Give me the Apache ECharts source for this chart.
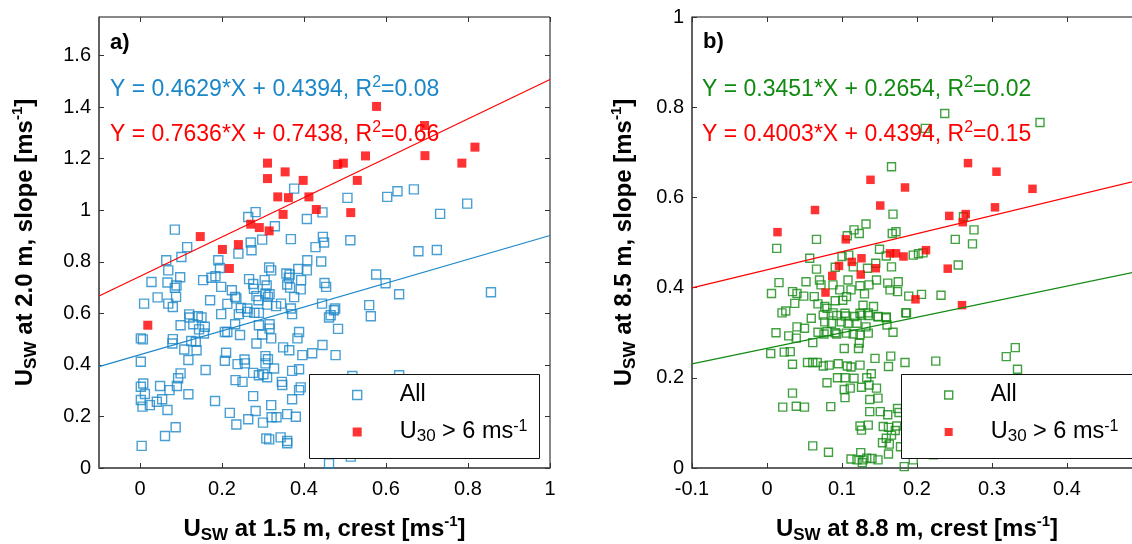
<!DOCTYPE html>
<html><head><meta charset="utf-8">
<script src="https://cdn.jsdelivr.net/npm/echarts@6/dist/echarts.min.js"></script>
<style>html,body{margin:0;padding:0;background:#fff}#c{width:1132px;height:544px}</style>
</head><body><div id="c"></div>
<script>
// ---------- DATA ----------
// Panel a) : U_SW at 1.5 m crest (x) vs U_SW at 2.0 m slope (y)
const allA = [
[0.376,1.084],[0.506,1.048],[0.603,1.052],[0.628,1.074],[0.668,1.081],[0.798,1.026],[0.732,0.986],[0.445,0.992],[0.407,0.966],[0.264,0.974],
[0.282,0.993],[0.329,0.938],[0.085,0.925],[0.368,0.888],[0.298,0.886],[0.446,0.897],[0.449,0.875],[0.428,0.857],[0.513,0.884],[0.270,0.875],
[0.272,0.845],[0.240,0.832],[0.115,0.857],[0.101,0.819],[0.064,0.806],[0.069,0.767],[0.191,0.806],[0.195,0.776],[0.408,0.806],[0.442,0.801],
[0.679,0.841],[0.724,0.846],[0.315,0.778],[0.320,0.767],[0.386,0.772],[0.407,0.767],[0.357,0.755],[0.365,0.751],[0.363,0.738],[0.393,0.729],
[0.576,0.751],[0.599,0.717],[0.098,0.740],[0.028,0.722],[0.067,0.720],[0.089,0.708],[0.085,0.699],[0.154,0.729],[0.174,0.738],[0.184,0.744],
[0.198,0.703],[0.266,0.733],[0.276,0.714],[0.278,0.695],[0.304,0.729],[0.309,0.708],[0.306,0.677],[0.359,0.712],[0.366,0.700],[0.392,0.693],
[0.450,0.718],[0.454,0.703],[0.632,0.674],[0.856,0.682],[0.224,0.690],[0.232,0.664],[0.235,0.658],[0.284,0.667],[0.316,0.674],[0.312,0.664],
[0.376,0.663],[0.289,0.651],[0.088,0.664],[0.043,0.662],[0.010,0.638],[0.069,0.638],[0.080,0.625],[0.171,0.651],[0.213,0.637],[0.246,0.621],
[0.262,0.619],[0.310,0.634],[0.344,0.638],[0.444,0.638],[0.476,0.619],[0.473,0.612],[0.559,0.632],[0.563,0.589],[0.465,0.593],[0.368,0.619],
[0.371,0.597],[0.262,0.606],[0.279,0.602],[0.290,0.602],[0.241,0.597],[0.198,0.597],[0.120,0.596],[0.141,0.589],[0.150,0.584],[0.121,0.584],
[0.332,0.628],
[0.099,0.554],[0.130,0.558],[0.144,0.538],[0.158,0.548],[0.156,0.522],[0.213,0.528],[0.232,0.558],[0.244,0.516],[0.290,0.554],[0.316,0.558],
[0.316,0.541],[0.298,0.518],[0.320,0.503],[0.284,0.483],[0.388,0.528],[0.384,0.503],[0.483,0.540],[0.461,0.584],[0.002,0.503],[0.007,0.499],
[0.080,0.500],[0.079,0.483],[0.125,0.493],[0.136,0.490],[0.138,0.457],[0.108,0.460],[0.207,0.528],[0.210,0.447],[0.349,0.468],[0.364,0.457],
[0.306,0.434],[0.312,0.422],[0.255,0.421],[0.256,0.406],[0.238,0.403],[0.207,0.416],[0.118,0.419],[0.002,0.412],[0.160,0.380],[0.099,0.367],
[0.093,0.348],[0.090,0.318],[0.072,0.302],[0.049,0.318],[0.002,0.315],[0.008,0.328],[0.012,0.287],[0.002,0.264],[0.006,0.238],[0.024,0.244],
[0.041,0.257],[0.054,0.267],[0.067,0.225],[0.118,0.286],[0.183,0.260],[0.219,0.214],[0.235,0.169],[0.087,0.158],[0.061,0.124],[0.004,0.086],
[0.233,0.341],[0.250,0.334],[0.276,0.369],[0.290,0.360],[0.301,0.364],[0.310,0.352],[0.306,0.406],[0.327,0.386],[0.346,0.334],[0.347,0.322],
[0.371,0.377],[0.388,0.383],[0.392,0.313],[0.388,0.302],[0.371,0.267],[0.276,0.279],[0.320,0.244],[0.282,0.221],[0.264,0.189],[0.300,0.176],
[0.321,0.197],[0.333,0.197],[0.359,0.209],[0.380,0.199],[0.308,0.115],[0.315,0.111],[0.343,0.119],[0.359,0.096],[0.359,0.105],[0.396,0.438],
[0.420,0.445],[0.445,0.477],[0.477,0.438],[0.461,0.018],[0.514,0.044],[0.518,0.357],[0.632,0.360]
];
const fastA = [
[0.577,1.403],[0.694,1.329],[0.695,1.212],[0.817,1.245],[0.785,1.183],[0.311,1.183],[0.354,1.149],[0.398,1.116],[0.311,1.123],[0.482,1.178],
[0.496,1.183],[0.550,1.211],[0.530,1.116],[0.336,1.052],[0.362,1.049],[0.412,1.052],[0.349,0.984],[0.430,1.003],[0.514,0.991],[0.270,0.946],
[0.291,0.933],[0.315,0.920],[0.147,0.898],[0.201,0.848],[0.240,0.867],[0.218,0.774],[0.019,0.554]
];
// Panel b) : U_SW at 8.8 m crest (x) vs U_SW at 8.5 m slope (y)
const allB = [
[0.237,0.786],[0.211,0.753],[0.364,0.766],[0.166,0.668],
[0.168,0.563],[0.132,0.541],[0.116,0.528],[0.123,0.520],[0.107,0.515],[0.167,0.520],[0.172,0.524],[0.066,0.507],[0.013,0.487],[0.150,0.485],
[0.100,0.469],[0.109,0.472],[0.057,0.465],[0.159,0.470],[0.195,0.472],[0.202,0.475],[0.208,0.477],[0.251,0.507],[0.274,0.497],[0.276,0.528],
[0.262,0.557],[0.255,0.450],[0.066,0.441],[0.091,0.445],[0.115,0.446],[0.134,0.443],[0.145,0.454],[0.166,0.446],
[0.016,0.411],[0.052,0.413],[0.070,0.417],[0.108,0.417],[0.124,0.404],[0.136,0.406],[0.146,0.417],[0.161,0.410],[0.175,0.413],[0.072,0.406],
[0.088,0.406],[0.097,0.395],[0.063,0.380],[0.034,0.391],[0.040,0.387],[0.049,0.381],[0.006,0.387],[0.037,0.365],[0.020,0.344],[0.025,0.348],
[0.068,0.364],[0.077,0.358],[0.091,0.371],[0.101,0.372],[0.106,0.380],[0.112,0.395],[0.130,0.386],[0.128,0.361],[0.142,0.358],[0.164,0.395],
[0.174,0.391],[0.189,0.381],[0.206,0.385],[0.232,0.383],[0.186,0.344],[0.059,0.332],[0.075,0.339],
[0.093,0.338],[0.105,0.337],[0.117,0.336],[0.126,0.339],[0.135,0.338],[0.148,0.335],[0.159,0.335],
[0.080,0.354],[0.088,0.344],[0.104,0.343],[0.124,0.343],[0.135,0.344],[0.148,0.336],[0.159,0.333],[0.185,0.344],
[0.012,0.300],[0.029,0.293],[0.040,0.313],[0.050,0.310],[0.039,0.288],[0.061,0.278],[0.068,0.301],[0.080,0.302],[0.091,0.300],
[0.076,0.297],[0.093,0.297],[0.106,0.299],[0.115,0.297],[0.124,0.295],[0.135,0.299],
[0.077,0.324],[0.086,0.321],[0.099,0.324],[0.108,0.321],[0.120,0.321],[0.132,0.313],[0.160,0.317],[0.168,0.301],
[0.103,0.265],[0.123,0.277],[0.122,0.265],
[0.005,0.254],[0.023,0.257],[0.031,0.258],[0.054,0.234],[0.061,0.234],[0.067,0.234],[0.034,0.230],
[0.075,0.226],[0.083,0.228],[0.095,0.231],[0.107,0.226],[0.112,0.224],[0.124,0.228],
[0.094,0.200],[0.104,0.200],[0.116,0.199],[0.133,0.200],[0.139,0.209],
[0.144,0.243],[0.165,0.248],[0.162,0.225],[0.184,0.234],[0.225,0.237],[0.319,0.247],[0.331,0.267],[0.334,0.219],
[0.080,0.189],[0.034,0.166],[0.103,0.174],[0.111,0.177],[0.104,0.156],[0.126,0.179],[0.136,0.184],[0.146,0.177],[0.137,0.152],[0.148,0.155],
[0.021,0.135],[0.039,0.137],[0.050,0.135],[0.085,0.136],[0.137,0.125],[0.151,0.125],[0.161,0.118],[0.174,0.132],[0.176,0.123],
[0.124,0.093],[0.126,0.084],[0.135,0.095],[0.155,0.092],[0.162,0.090],[0.173,0.093],[0.171,0.083],[0.166,0.073],[0.159,0.066],
[0.154,0.056],[0.163,0.053],[0.061,0.049],[0.082,0.035],
[0.112,0.020],[0.120,0.018],[0.128,0.018],[0.133,0.022],[0.140,0.021],[0.148,0.018],[0.125,0.034],[0.127,0.012],[0.162,0.031],[0.183,0.003],
[0.178,0.047],[0.195,0.018],[0.222,0.029]
];
const fastB = [
[0.268,0.676],[0.306,0.657],[0.138,0.639],[0.184,0.622],[0.354,0.619],[0.151,0.582],[0.064,0.572],[0.014,0.523],[0.105,0.507],[0.243,0.559],
[0.265,0.563],[0.261,0.545],[0.304,0.578],[0.212,0.483],[0.164,0.476],[0.172,0.476],[0.182,0.469],[0.113,0.457],[0.126,0.465],[0.096,0.448],
[0.145,0.443],[0.125,0.429],[0.087,0.426],[0.078,0.389],[0.241,0.442],[0.198,0.374],[0.260,0.361]
];
// Fit coefficients [slope, intercept, R2]
const fitAllA  = [0.4629, 0.4394, '0.08'];
const fitFastA = [0.7636, 0.7438, '0.66'];
const fitAllB  = [0.3451, 0.2654, '0.02'];
const fitFastB = [0.4003, 0.4394, '0.15'];
// Axis ranges and tick labels
const xRangeA = [-0.1, 1],   xTicksA = [0, 0.2, 0.4, 0.6, 0.8, 1];
const yRangeA = [0, 1.75],   yTicksA = [0, 0.2, 0.4, 0.6, 0.8, 1, 1.2, 1.4, 1.6];
const xRangeB = [-0.1, 0.5], xTicksB = [-0.1, 0, 0.1, 0.2, 0.3, 0.4];
const yRangeB = [0, 1],      yTicksB = [0, 0.2, 0.4, 0.6, 0.8, 1];
const panelLabels = ['a)', 'b)'];
const xTitles = [['U','SW',' at 1.5 m, crest [ms','-1',']'], ['U','SW',' at 8.8 m, crest [ms','-1',']']];
const yTitles = [['U','SW',' at 2.0 m, slope [ms','-1',']'], ['U','SW',' at 8.5 m, slope [ms','-1',']']];
const legendNames = ['All', ['U','30',' > 6 ms','-1']];

// ---------- STYLE ----------
const FF = '"Liberation Sans", Arial, Helvetica, sans-serif';
const BLUE = '#1b87c8', GREEN = '#118a11', RED = '#ff0000';
const fmt = v => String(Number(v.toFixed(2)));

const titleRich = {
  b: {fontFamily: FF, fontSize: 24, fontWeight: 'bold', color: '#000', lineHeight: 30},
  s: {fontFamily: FF, fontSize: 17, fontWeight: 'bold', color: '#000', verticalAlign: 'bottom'},
  p: {fontFamily: FF, fontSize: 15, fontWeight: 'bold', color: '#000', verticalAlign: 'top'}
};
const richTitle = t => `{b|${t[0]}}{s|${t[1]}}{b|${t[2]}}{p|${t[3]}}{b|${t[4]}}`;

function mkX(grid, range, ticks, title, gap) {
  return [{
    type: 'value', gridIndex: grid, min: range[0], max: range[1],
    axisLine: {show: true, onZero: false, lineStyle: {color: '#555', width: 1.5}},
    axisTick: {show: true, inside: true, length: 5, customValues: ticks, lineStyle: {color: '#333'}},
    axisLabel: {show: true, customValues: ticks, formatter: fmt, fontFamily: FF, fontSize: 20, color: '#000', margin: 11},
    splitLine: {show: false},
    name: richTitle(title), nameLocation: 'middle', nameGap: gap,
    nameTextStyle: {rich: titleRich}
  }, {
    type: 'value', gridIndex: grid, min: range[0], max: range[1], position: 'top',
    axisLine: {show: false, onZero: false},
    axisTick: {show: true, inside: true, length: 5, customValues: ticks, lineStyle: {color: '#333'}},
    axisLabel: {show: false}, splitLine: {show: false}
  }];
}
function mkY(grid, range, ticks, title, gap) {
  return [{
    type: 'value', gridIndex: grid, min: range[0], max: range[1],
    axisLine: {show: true, onZero: false, lineStyle: {color: '#555', width: 1.5}},
    axisTick: {show: true, inside: true, length: 5, customValues: ticks, lineStyle: {color: '#333'}},
    axisLabel: {show: true, customValues: ticks, formatter: fmt, fontFamily: FF, fontSize: 20, color: '#000', margin: 8},
    splitLine: {show: false},
    name: richTitle(title), nameLocation: 'middle', nameGap: gap,
    nameTextStyle: {rich: titleRich}
  }, {
    type: 'value', gridIndex: grid, min: range[0], max: range[1], position: 'right',
    axisLine: {show: false, onZero: false},
    axisTick: {show: true, inside: true, length: 5, customValues: ticks, lineStyle: {color: '#333'}},
    axisLabel: {show: false}, splitLine: {show: false}
  }];
}

const xAxes = [...mkX(0, xRangeA, xTicksA, xTitles[0], 46), ...mkX(1, xRangeB, xTicksB, xTitles[1], 46)];
const yAxes = [...mkY(0, yRangeA, yTicksA, yTitles[0], 59), ...mkY(1, yRangeB, yTicksB, yTitles[1], 53)];

function fitLine(fit, range) {
  return [[range[0], fit[0]*range[0] + fit[1]], [range[1], fit[0]*range[1] + fit[1]]];
}
function scatterAll(name, data, xi, yi, color, size) {
  return {type: 'scatter', name, data, xAxisIndex: xi, yAxisIndex: yi, symbol: 'rect', symbolSize: size,
    itemStyle: {color: 'rgba(255,255,255,0)', borderColor: color, borderWidth: 1.4}, z: 2, silent: true};
}
function scatterFast(name, data, xi, yi, size) {
  return {type: 'scatter', name, data, xAxisIndex: xi, yAxisIndex: yi, symbol: 'rect', symbolSize: size,
    itemStyle: {color: RED}, z: 3, silent: true};
}
function line(data, xi, yi, color) {
  return {type: 'line', data, xAxisIndex: xi, yAxisIndex: yi, showSymbol: false, silent: true,
    lineStyle: {color, width: 1.2}, z: 4, clip: true};
}

const eqRich = (color) => ({
  t: {fontFamily: FF, fontSize: 23, color, lineHeight: 30},
  p: {fontFamily: FF, fontSize: 16, color, verticalAlign: 'top'}
});
const eqText = f => `{t|Y = ${f[0].toFixed(4)}*X + ${f[1].toFixed(4)}, R}{p|2}{t|=${f[2]}}`;
function eqGraphic(x, y, f, color) {
  return {type: 'text', x, y, z: 20, style: {text: eqText(f), rich: eqRich(color), fill: color,
    fontFamily: FF, fontSize: 23, align: 'left', verticalAlign: 'middle'}};
}

const legRich = {
  g: {width: 33, fontSize: 23},
  t: {fontFamily: FF, fontSize: 23.5, color: '#000', lineHeight: 26},
  s: {fontFamily: FF, fontSize: 17, color: '#000', verticalAlign: 'bottom'},
  p: {fontFamily: FF, fontSize: 16, color: '#000', verticalAlign: 'top'}
};
const legFmt = name => name.startsWith('All') ? `{g| }{t|${legendNames[0]}}` :
  `{g| }{t|${legendNames[1][0]}}{s|${legendNames[1][1]}}{t|${legendNames[1][2]}}{p|${legendNames[1][3]}}`;

function mkLegend(left, top, allName, fastName, color, size) {
  return {show: true, orient: 'vertical', left, top, padding: 0, itemGap: 12, z: 30,
    itemWidth: size, itemHeight: size, selectedMode: false, formatter: legFmt,
    textStyle: {rich: legRich, fontFamily: FF, fontSize: 23},
    data: [
      {name: allName, icon: 'rect', itemStyle: {color: '#fff', borderColor: color, borderWidth: 1.4}},
      {name: fastName, icon: 'rect', itemStyle: {color: RED, borderWidth: 0}}
    ]};
}

const option = {
  animation: false,
  backgroundColor: '#fff',
  grid: [
    {left: 99, top: 17, width: 451, height: 451, outerBoundsMode: 'none', containLabel: false,
     show: true, borderColor: '#111', borderWidth: 1, backgroundColor: 'transparent'},
    {left: 692, top: 17, width: 450, height: 451, outerBoundsMode: 'none', containLabel: false,
     show: true, borderColor: '#111', borderWidth: 1, backgroundColor: 'transparent'}
  ],
  xAxis: xAxes,
  yAxis: yAxes,
  legend: [
    mkLegend(352, 383, 'All (a)', 'U30 (a)', BLUE, 9),
    mkLegend(944, 383, 'All (b)', 'U30 (b)', GREEN, 8)
  ],
  series: [
    scatterAll('All (a)', allA, 0, 0, BLUE, 9),
    scatterFast('U30 (a)', fastA, 0, 0, 9),
    line(fitLine(fitAllA, xRangeA), 0, 0, BLUE),
    line(fitLine(fitFastA, xRangeA), 0, 0, RED),
    scatterAll('All (b)', allB, 2, 2, GREEN, 8),
    scatterFast('U30 (b)', fastB, 2, 2, 8.5),
    line(fitLine(fitAllB, xRangeB), 2, 2, GREEN),
    line(fitLine(fitFastB, xRangeB), 2, 2, RED)
  ],
  graphic: [
    {type: 'rect', z: 25, shape: {x: 309.5, y: 374.5, width: 230, height: 84}, style: {fill: '#fff', stroke: '#111', lineWidth: 1}},
    {type: 'rect', z: 25, shape: {x: 901.5, y: 374.5, width: 240, height: 84}, style: {fill: '#fff', stroke: '#111', lineWidth: 1}},
    {type: 'text', x: 110, y: 43, z: 20, style: {text: panelLabels[0], fontFamily: FF, fontSize: 22, fontWeight: 'bold', fill: '#000', verticalAlign: 'middle'}},
    {type: 'text', x: 703, y: 42, z: 20, style: {text: panelLabels[1], fontFamily: FF, fontSize: 22, fontWeight: 'bold', fill: '#000', verticalAlign: 'middle'}},
    eqGraphic(110, 90, fitAllA, BLUE),
    eqGraphic(110, 135, fitFastA, RED),
    eqGraphic(702, 90, fitAllB, GREEN),
    eqGraphic(702, 135, fitFastB, RED)
  ]
};
const chart = echarts.init(document.getElementById('c'), null, {renderer: 'canvas'});
chart.setOption(option);
</script>
</body></html>
